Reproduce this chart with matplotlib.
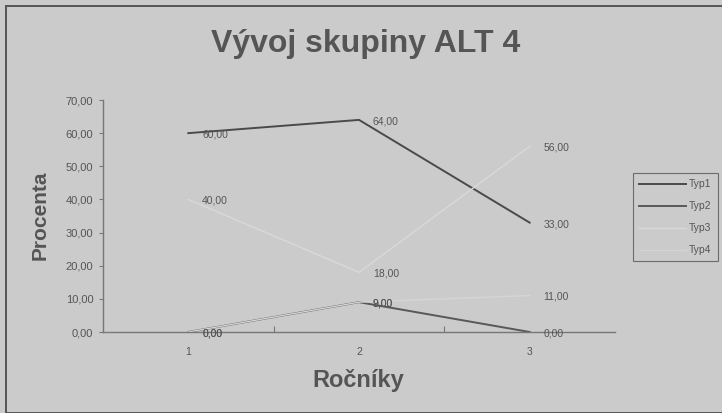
import matplotlib
matplotlib.use("Agg")
import matplotlib.pyplot as plt
from matplotlib.patches import Rectangle

categories = ["1", "2", "3"]
series_names = ["Typ1", "Typ2", "Typ3", "Typ4"]
typ1 = [60, 64, 33]
typ2 = [0, 9, 0]
typ3 = [40, 18, 56]
typ4 = [0, 9, 11]
yticks = [0, 10, 20, 30, 40, 50, 60, 70]

bg = "#cbcbcb"
txt = "#555555"
colors = ["#4a4a4a", "#585858", "#d9d9d9", "#d5d5d5"]
widths = [1.4, 1.4, 1.0, 1.0]

plt.rcParams['font.family'] = ['Liberation Sans', 'DejaVu Sans']

W, H = 722, 413
fig = plt.figure(figsize=(W / 100, H / 100), dpi=100)
fig.patch.set_facecolor(bg)
fig.patches.append(Rectangle((6 / W, 0.0), 1.0, 1 - 6 / H, transform=fig.transFigure,
                             fill=False, edgecolor="#555555", lw=1.4))

ax = fig.add_axes([103 / W, 1 - 332 / H, (615 - 103) / W, (332 - 100) / H])
ax.set_facecolor(bg)
x = [1, 2, 3]
for vals, name, c, lw in zip([typ1, typ2, typ3, typ4], series_names, colors, widths):
    ax.plot(x, vals, color=c, lw=lw, label=name)
    for xi, v in zip(x, vals):
        ax.annotate(f"{v:.2f}".replace(".", ","), (xi, v), xytext=(10, -1),
                    textcoords="offset points", fontsize=7.5, color=txt, va="center")

ax.set_xlim(0.5, 3.5)
ax.set_ylim(0, 70)
ax.set_yticks(yticks)
ax.set_yticklabels([f"{t:.2f}".replace(".", ",") for t in yticks], fontsize=8, color=txt)
ax.set_xticks([1.5, 2.5], minor=False)
ax.set_xticks(x, minor=True)
ax.set_xticklabels([])
ax.set_xticklabels(categories, minor=True, fontsize=7.5, color=txt)
ax.tick_params(axis="x", which="major", length=4, color="#777777", direction="in")
ax.tick_params(axis="x", which="minor", length=0, pad=11)
ax.tick_params(axis="y", length=3, color="#777777", pad=4)
for s in ["top", "right"]:
    ax.spines[s].set_visible(False)
for s in ["left", "bottom"]:
    ax.spines[s].set_color("#777777")
    ax.spines[s].set_linewidth(1.0)

fig.text(40 / W, 1 - 215 / H, "Procenta", fontsize=15, fontweight="bold", color=txt,
         rotation=90, ha="center", va="center")
fig.text(358 / W, 1 - 381 / H, "Ročníky", fontsize=17, fontweight="bold", color=txt,
         ha="center", va="center")
fig.text(366 / W, 1 - 44 / H, "Vývoj skupiny ALT 4", fontsize=23, fontweight="bold",
         color=txt, ha="center", va="center")

leg = ax.legend(loc="upper left", bbox_to_anchor=(633 / W, 1 - 173 / H),
                bbox_transform=fig.transFigure, fontsize=7.5, frameon=True,
                handlelength=4.5, handletextpad=0.3, labelcolor=txt,
                borderpad=0.6, labelspacing=1.15, fancybox=False, borderaxespad=0)
leg.get_frame().set_facecolor(bg)
leg.get_frame().set_edgecolor("#555555")
leg.get_frame().set_linewidth(0.8)

fig.savefig("out.png", dpi=100, facecolor=bg)
